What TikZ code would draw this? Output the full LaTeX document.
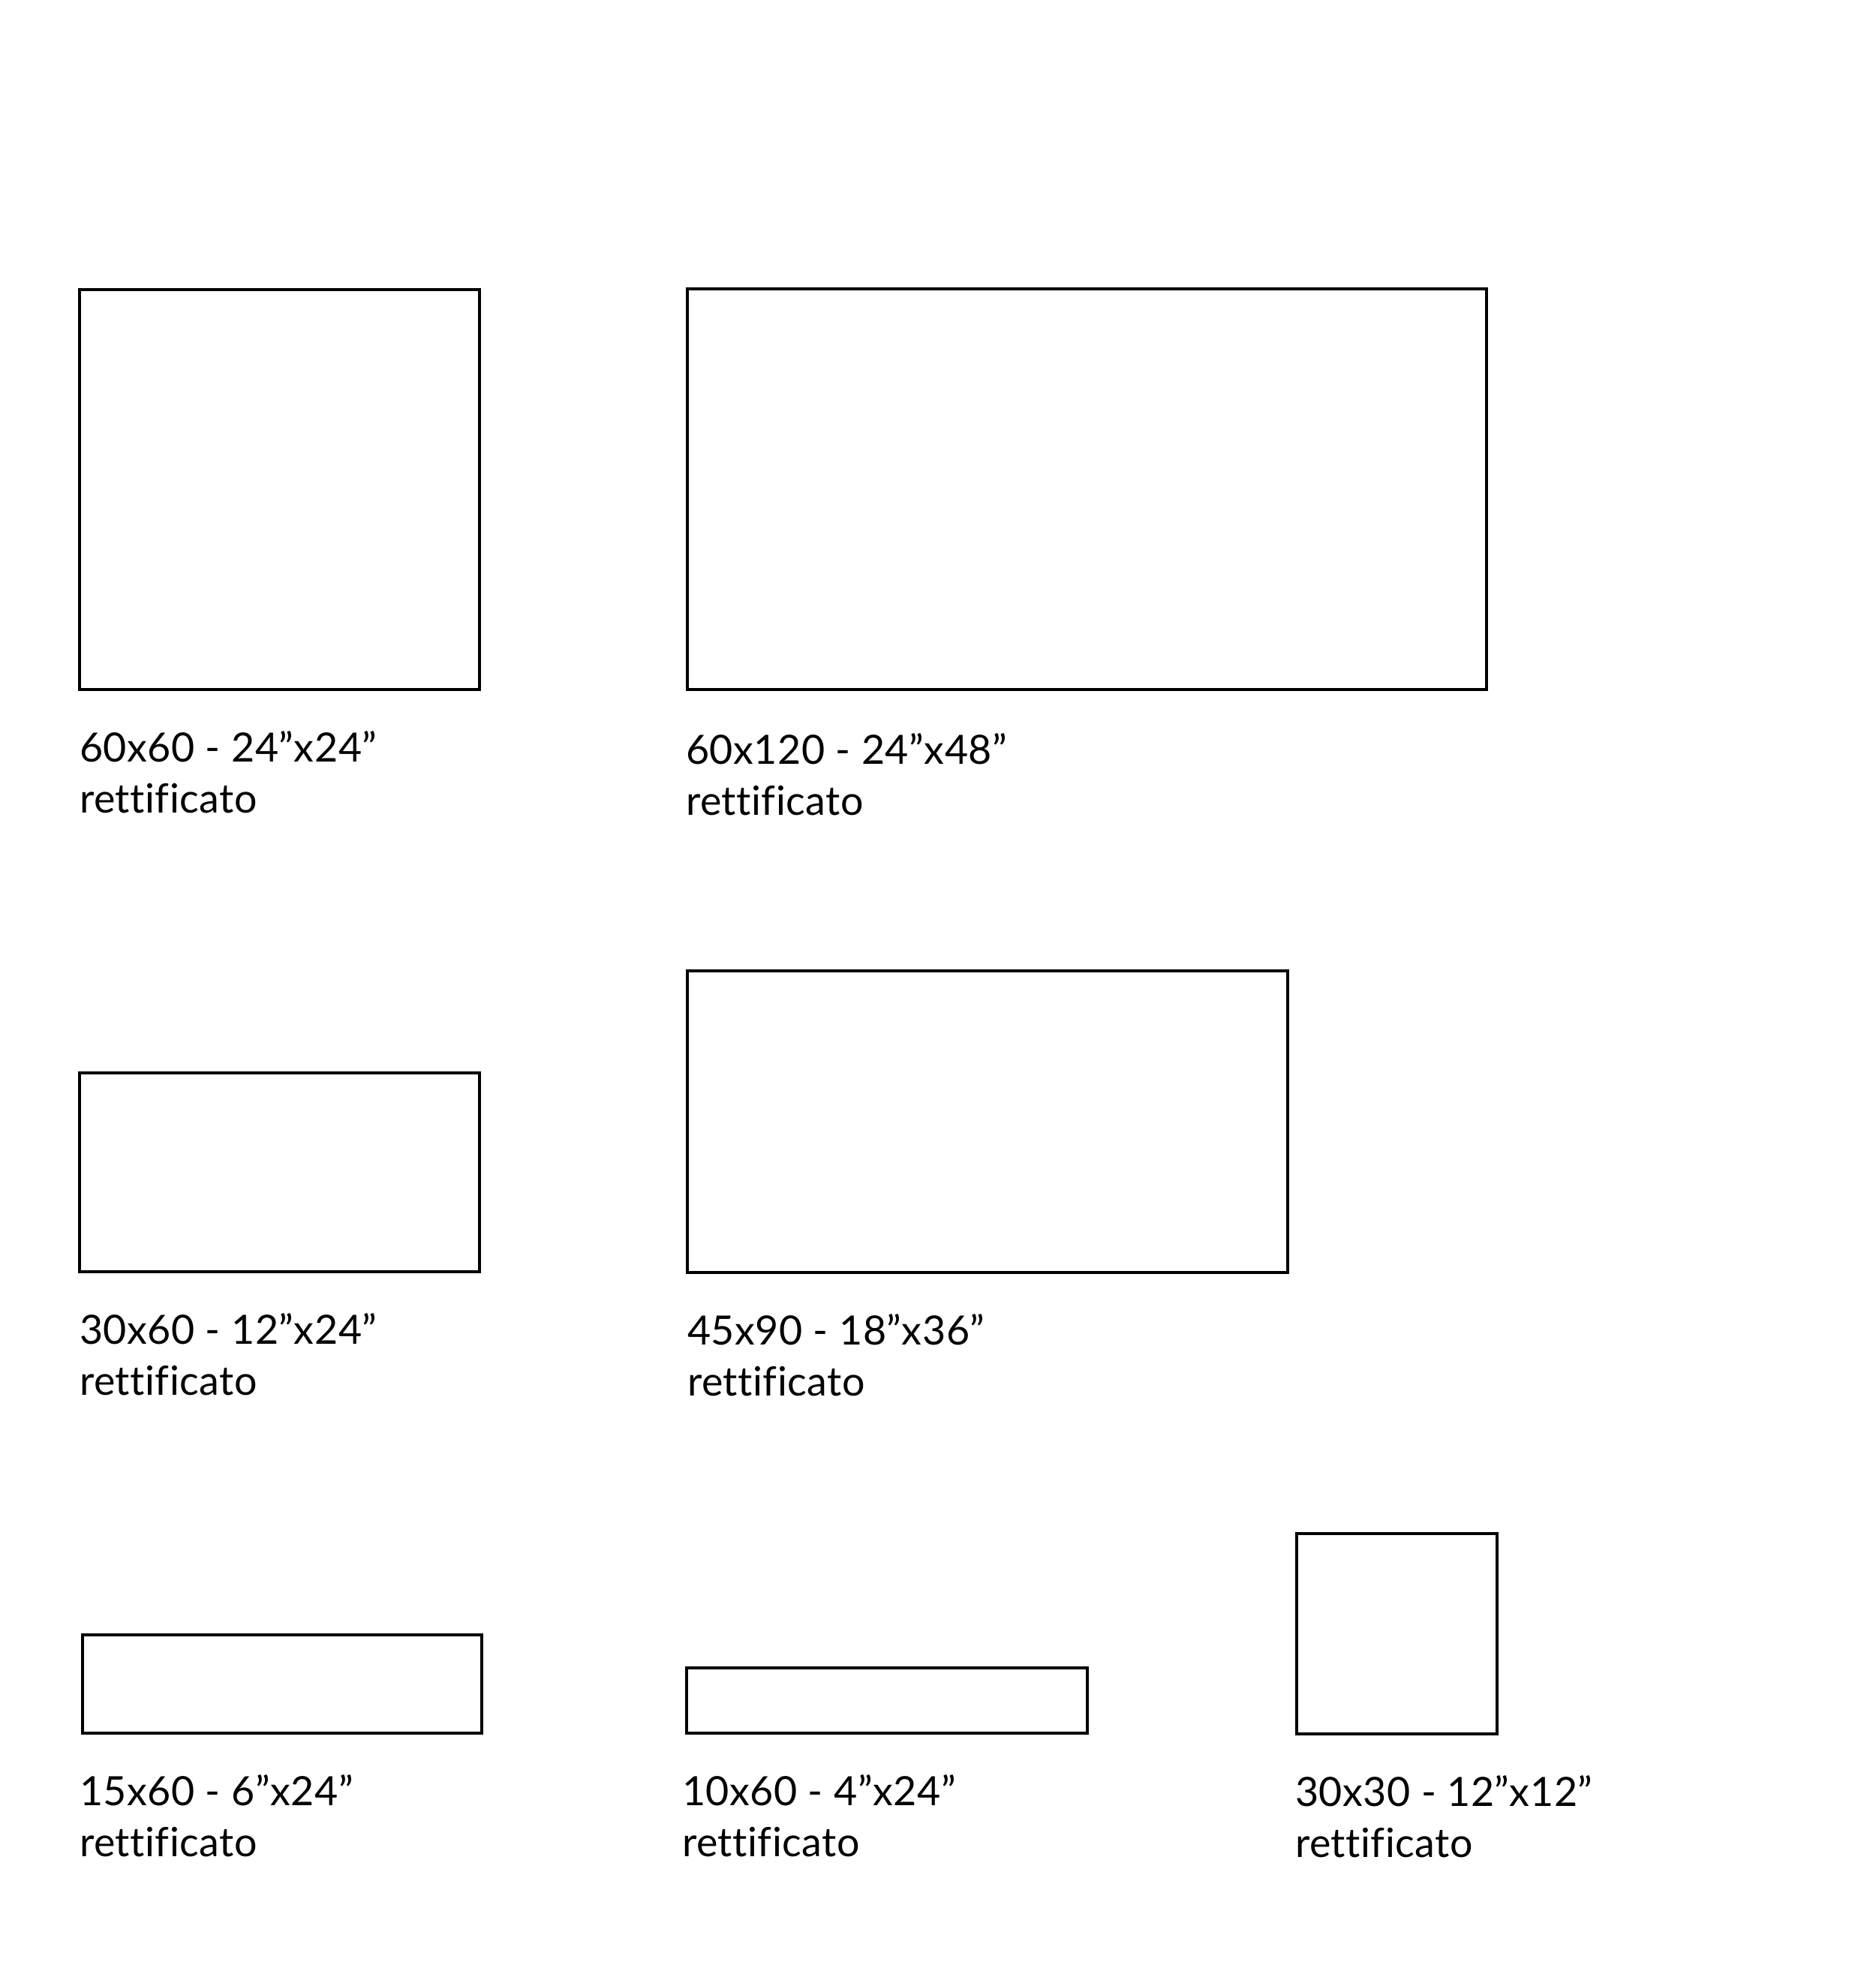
\documentclass[tikz,border=0pt]{standalone}
\usepackage{fontspec}
\setmainfont[Ligatures={NoCommon}, LetterSpace=1.0]{Lato}
\usetikzlibrary{positioning}

\begin{document}
\begin{tikzpicture}[
            node distance=0.55cm, % gap between a tile and its caption
            tile/.style={draw, rectangle, line width=1.3pt, inner sep=0pt, outer sep=0pt, anchor=north west},
            caption/.style={align=left, inner sep=0pt, outer sep=0pt, font=\fontsize{15.3pt}{19.4pt}\selectfont}
        ]
            \useasboundingbox (0,0) rectangle (25,-26.23);

            % top row
            \node [tile, minimum width=5.33cm, minimum height=5.33cm] (t60x60) at (1.06,-3.86) {};
            \node [tile, minimum width=10.65cm, minimum height=5.34cm] (t60x120) at (9.16,-3.85) {};
            \node [caption, below=0.58cm of t60x120.south west, anchor=north west, xshift=-0.02cm] (c60x120) {60x120 - 24”x48”\\rettificato};
            \node [caption, below=of t60x60.south west, anchor=north west] (c60x60) {60x60 - 24”x24”\\rettificato};

            % middle row
            \node [tile, minimum width=5.33cm, minimum height=2.65cm] (t30x60) at (1.06,-14.30) {};
            \node [tile, minimum width=8.00cm, minimum height=4.02cm] (t45x90) at (9.16,-12.94) {};
            \node [caption, below=of t30x60.south west, anchor=north west] (c30x60) {30x60 - 12”x24”\\rettificato};
            \node [caption, below=of t45x90.south west, anchor=north west] (c45x90) {45x90 - 18”x36”\\rettificato};

            % bottom row
            \node [tile, minimum width=5.32cm, minimum height=1.31cm] (t15x60) at (1.10,-21.79) {};
            \node [tile, minimum width=5.34cm, minimum height=0.87cm] (t10x60) at (9.15,-22.23) {};
            \node [tile, minimum width=2.67cm, minimum height=2.67cm] (t30x30) at (17.28,-20.44) {};
            \node [caption, below=of t15x60.south west, anchor=north west, xshift=-0.04cm] (c15x60) {15x60 - 6”x24”\\rettificato};
            \node [caption, below=of t10x60.south west, anchor=north west, xshift=-0.06cm] (c10x60) {10x60 - 4”x24”\\rettificato};
            \node [caption, below=of t30x30.south west, anchor=north west, xshift=-0.02cm] (c30x30) {30x30 - 12”x12”\\rettificato};
        \end{tikzpicture}
\end{document}
